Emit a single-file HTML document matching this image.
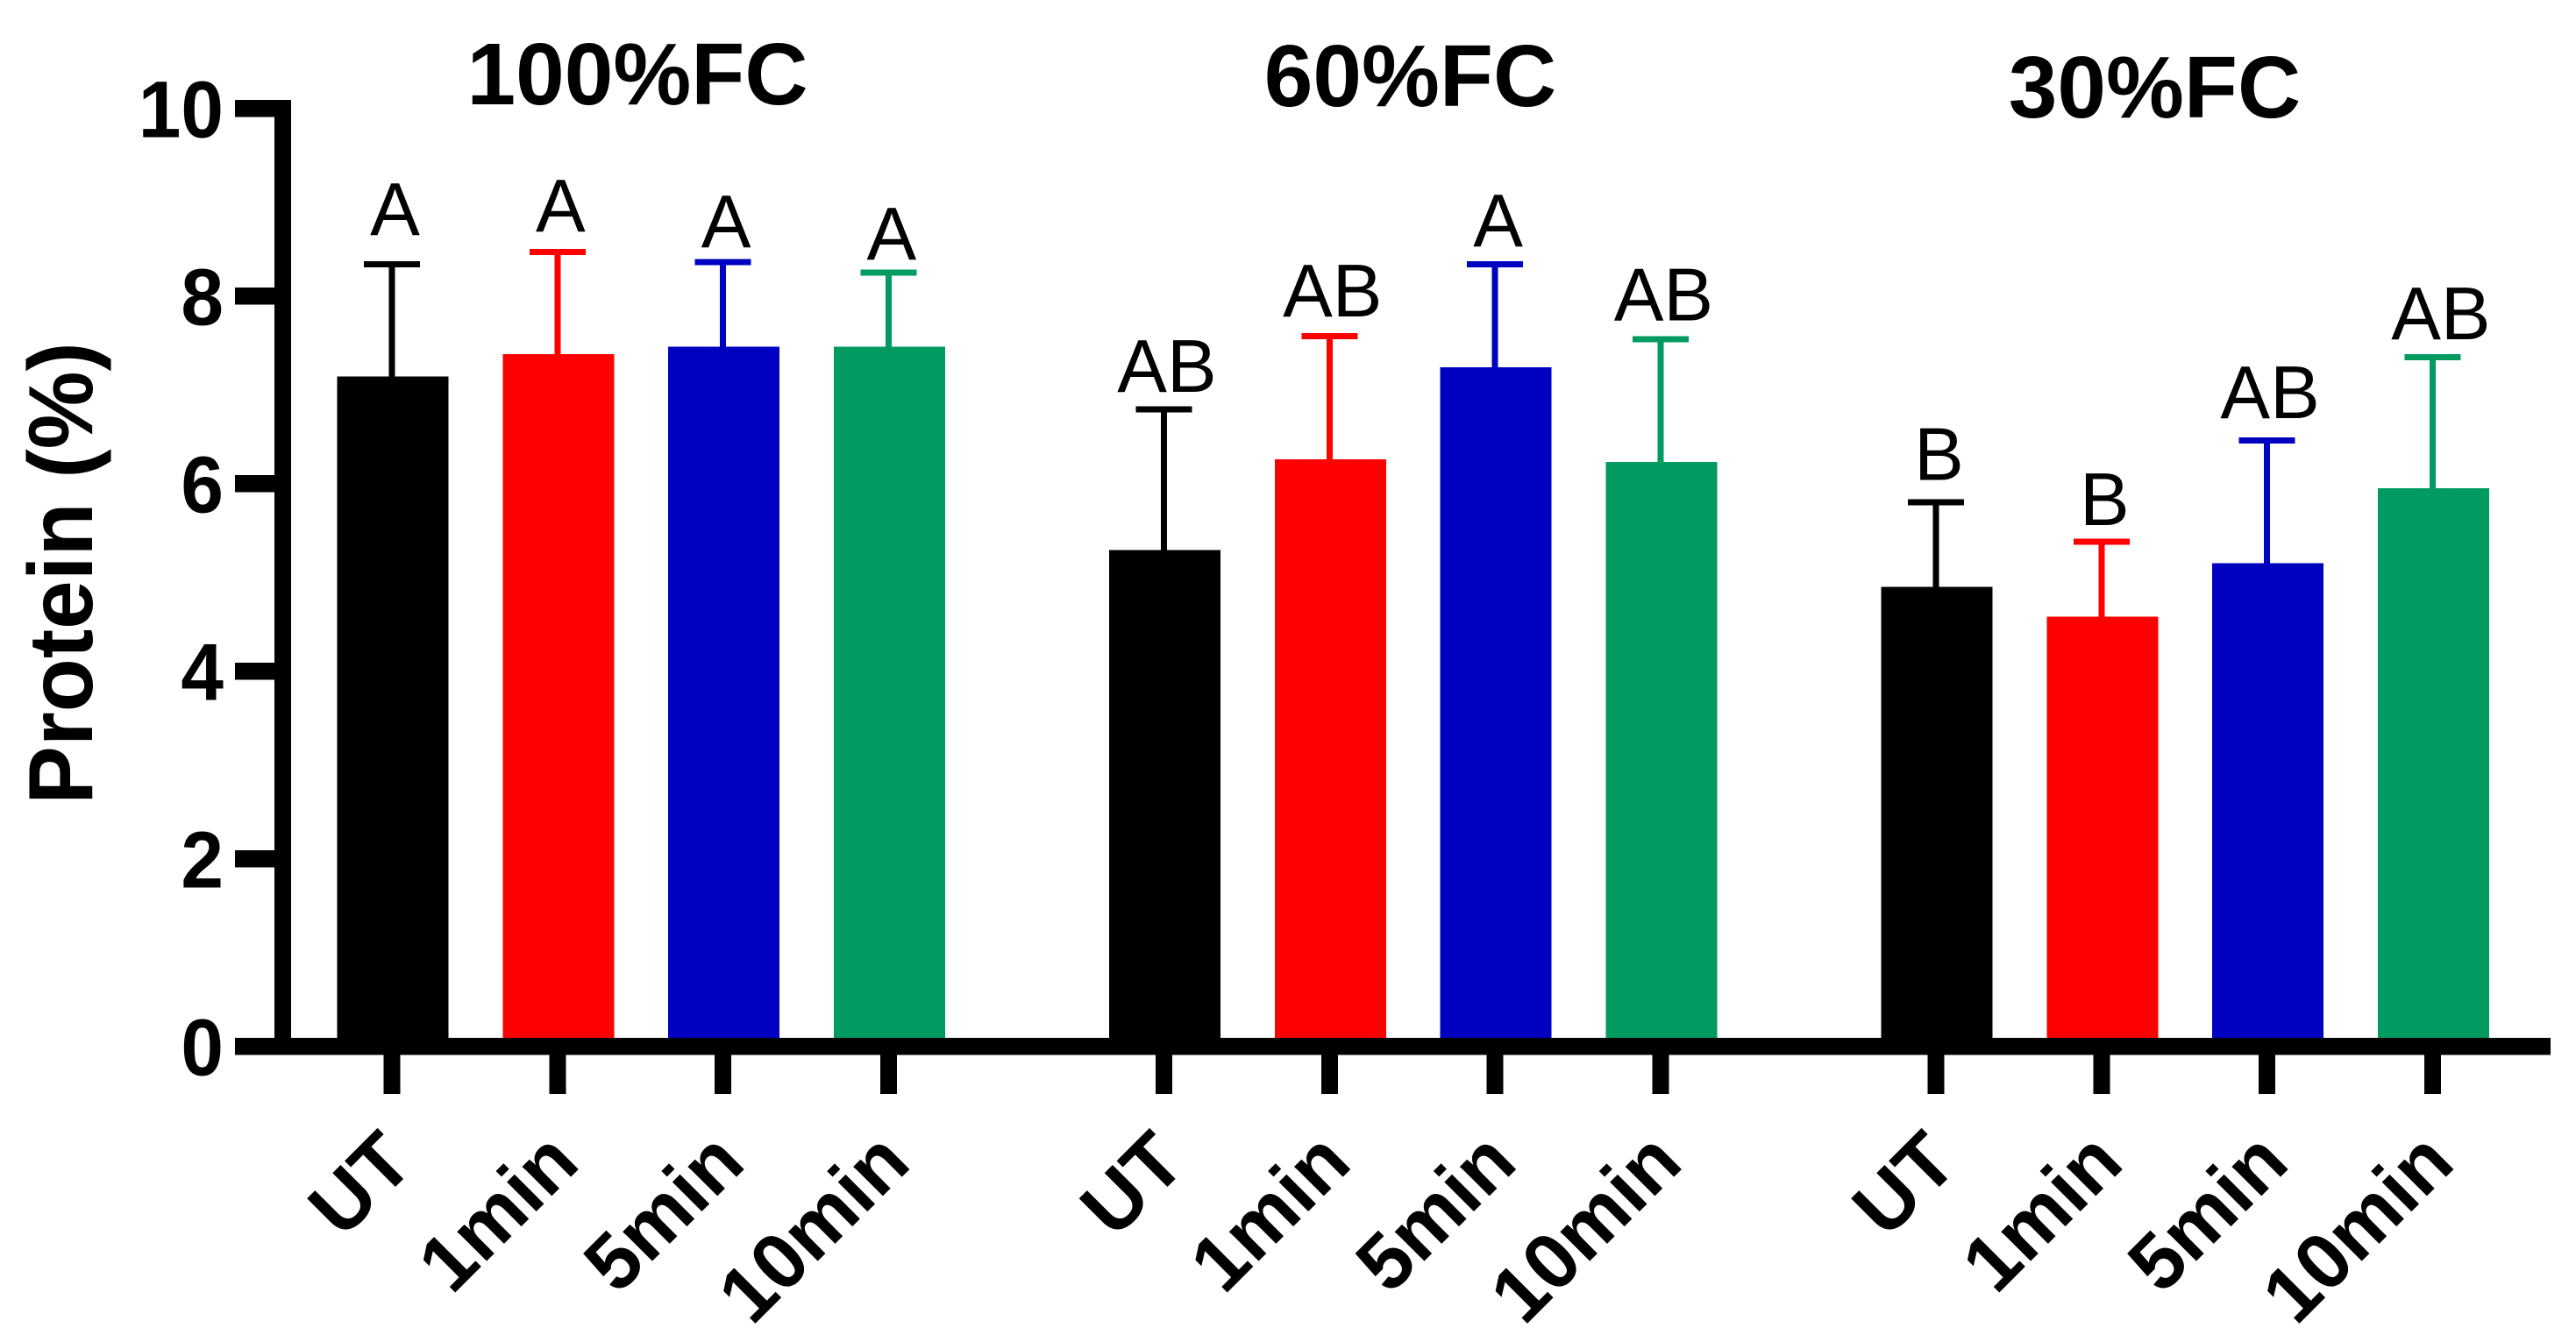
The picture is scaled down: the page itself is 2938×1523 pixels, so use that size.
<!DOCTYPE html>
<html lang="en">
<head>
<meta charset="utf-8">
<title>Protein by field capacity and treatment time</title>
<style>
  html, body { margin: 0; padding: 0; background: #ffffff; }
  svg { display: block; }
  text { font-family: "Liberation Sans", Arial, sans-serif; fill: #000000; }
  .bold { font-weight: 700; }
</style>
</head>
<body>
<svg id="chart" xmlns="http://www.w3.org/2000/svg" width="2938" height="1523" viewBox="0 0 2938 1523">
  <rect x="0" y="0" width="2938" height="1523" fill="#ffffff"/>
  <text class="bold" font-size="100" text-anchor="middle" transform="translate(105 654) rotate(-90) scale(1 1.04)">Protein (%)</text>
  <text class="bold" font-size="100" text-anchor="middle" x="727" y="119">100%FC</text>
  <text class="bold" font-size="100" text-anchor="middle" x="1608.5" y="121">60%FC</text>
  <text class="bold" font-size="100" text-anchor="middle" x="2457.5" y="134">30%FC</text>
  <g id="marks"></g>
  <g id="axes"></g>
</svg>
<script>
const categories = ['UT', '1min', '5min', '10min'];
const groups = ['100%FC', '60%FC', '30%FC'];
const yTickLabels = [0, 2, 4, 6, 8, 10];
const seriesColors = ['#000000', '#ff0000', '#0000c0', '#019a60'];

const group100Means = [7.14, 7.38, 7.46, 7.46];
const group60Means = [5.29, 6.26, 7.24, 6.23];
const group30Means = [4.90, 4.58, 5.15, 5.95];

const group100ErrorTops = [8.34, 8.47, 8.36, 8.25];
const group60ErrorTops = [6.79, 7.57, 8.34, 7.54];
const group30ErrorTops = [5.80, 5.38, 6.46, 7.35];

const group100Letters = ['A', 'A', 'A', 'A'];
const group60Letters = ['AB', 'AB', 'A', 'AB'];
const group30Letters = ['B', 'B', 'AB', 'AB'];

// Gap between each error-bar cap and its significance letter, in axis units.
const group100LetterLift = [0.31, 0.22, 0.16, 0.14];
const group60LetterLift = [0.19, 0.21, 0.19, 0.20];
const group30LetterLift = [0.24, 0.18, 0.24, 0.19];

const meansByGroup = [group100Means, group60Means, group30Means];
const errorTopsByGroup = [group100ErrorTops, group60ErrorTops, group30ErrorTops];
const lettersByGroup = [group100Letters, group60Letters, group30Letters];
const liftByGroup = [group100LetterLift, group60LetterLift, group30LetterLift];

const NS = 'http://www.w3.org/2000/svg';
const marks = document.getElementById('marks');
const axes = document.getElementById('axes');

function yScale(value) { return 1193.7 - 107 * value; }
function xScale(groupIndex, catIndex) { return 447 + groupIndex * 880.5 + catIndex * 188.8; }

function rect(parent, x, y, w, h, fill) {
  const r = document.createElementNS(NS, 'rect');
  r.setAttribute('x', x);
  r.setAttribute('y', y);
  r.setAttribute('width', w);
  r.setAttribute('height', h);
  r.setAttribute('fill', fill);
  r.setAttribute('shape-rendering', 'crispEdges');
  parent.appendChild(r);
  return r;
}

function label(parent, content, size, bold) {
  const t = document.createElementNS(NS, 'text');
  t.textContent = content;
  t.setAttribute('font-size', size);
  if (bold) t.setAttribute('class', 'bold');
  parent.appendChild(t);
  return t;
}

const BAR_W = 127, CAP_W = 64, CAP_T = 7, STEM_W = 7;
const LETTER_SHIFT = 3.5, LAST_LETTER_EXTRA_SHIFT = 6;

groups.forEach(function (groupName, g) {
  categories.forEach(function (cat, i) {
    const cx = xScale(g, i);
    const color = seriesColors[i];
    const top = yScale(meansByGroup[g][i]);
    const capY = yScale(errorTopsByGroup[g][i]);

    const stem = rect(marks, cx - STEM_W / 2, capY, STEM_W, top - capY, color);
    
    

    const cap = rect(marks, cx - CAP_W / 2, capY - CAP_T / 2, CAP_W, CAP_T, color);
    
    

    const bar = rect(marks, cx + 1 - BAR_W / 2, top, BAR_W, yScale(0) - top, color);
    
    

    const isLastLetter = g === groups.length - 1 && i === categories.length - 1;
    const letter = label(marks, lettersByGroup[g][i], 85, false);
    letter.setAttribute('x', cx + LETTER_SHIFT + (isLastLetter ? LAST_LETTER_EXTRA_SHIFT : 0));
    letter.setAttribute('y', yScale(errorTopsByGroup[g][i] + liftByGroup[g][i]));
    letter.setAttribute('text-anchor', 'middle');
    
    

    const tick = rect(axes, cx - 9.5, 1202, 19, 46, '#000000');
    
    

    const ax = cx + 28, ay = 1330;
    const catLabel = label(axes, cat, 90, true);
    catLabel.setAttribute('text-anchor', 'end');
    catLabel.setAttribute('transform', 'translate(' + ax + ' ' + ay + ') rotate(-45)');
    
    
  });
});

const yAxisLine = rect(axes, 313, yScale(10) - 9.7, 19, yScale(0) - yScale(10) + 9.7, '#000000');



const xAxisLine = rect(axes, 268, yScale(0) - 9.7, 2909 - 268, 19.4, '#000000');



yTickLabels.forEach(function (value) {
  const py = yScale(value);
  const tick = rect(axes, 268, py - 9.7, 45, 19.4, '#000000');
  
  

  const t = label(axes, String(value), 92, true);
  t.setAttribute('text-anchor', 'end');
  t.setAttribute('transform', 'translate(255 ' + (py + 33) + ') scale(0.95 1)');
  
  
});
</script>
</body>
</html>
